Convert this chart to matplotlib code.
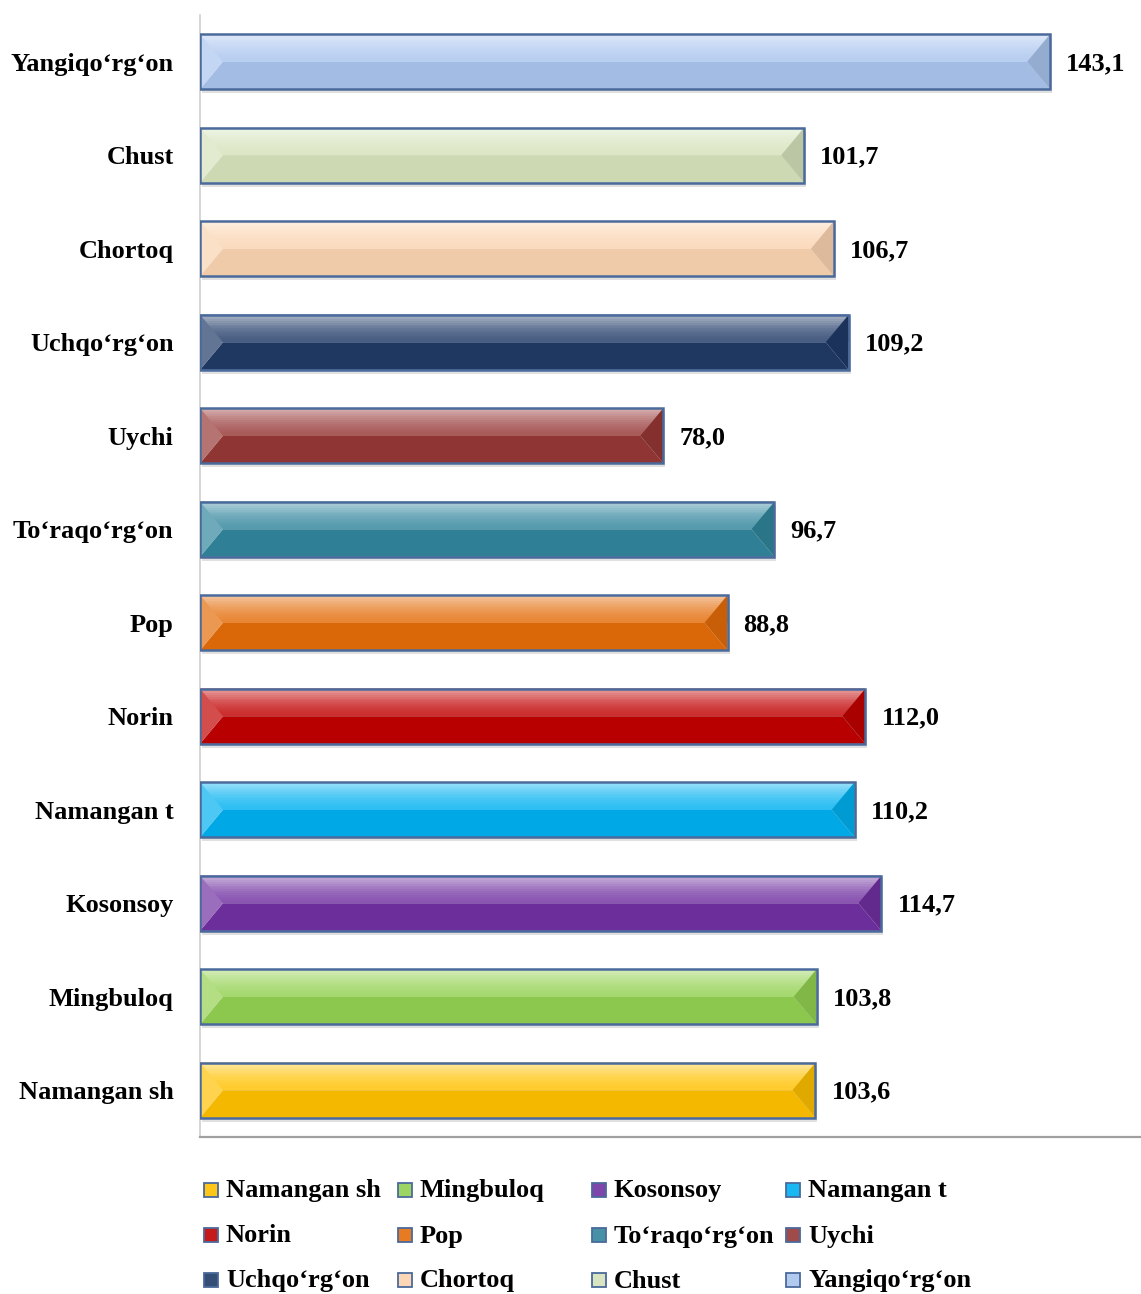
import matplotlib.pyplot as plt
from matplotlib.patches import Polygon, Rectangle
from matplotlib.colors import to_rgb
import numpy as np

plt.rcParams['font.family'] = ['Liberation Serif', 'DejaVu Serif']
plt.rcParams['font.weight'] = 'bold'

# data (bottom to top)
districts = ['Namangan sh', 'Mingbuloq', 'Kosonsoy', 'Namangan t', 'Norin', 'Pop',
             'To‘raqo‘rg‘on', 'Uychi', 'Uchqo‘rg‘on', 'Chortoq', 'Chust', 'Yangiqo‘rg‘on']
values = [103.6, 103.8, 114.7, 110.2, 112.0, 88.8, 96.7, 78.0, 109.2, 106.7, 101.7, 143.1]
labels = ['103,6', '103,8', '114,7', '110,2', '112,0', '88,8',
          '96,7', '78,0', '109,2', '106,7', '101,7', '143,1']
colors = ['#FFC000', '#92D050', '#7030A0', '#00B0F0', '#C00000', '#E36C09',
          '#31859C', '#953735', '#1F3A66', '#FAD3B0', '#D5E2BA', '#A9C4EE']


def mix(c, t, w):
    c = np.array(to_rgb(c))
    return tuple(c + (np.array(to_rgb(t)) - c) * w)


W, H = 1141, 1294
fig = plt.figure(figsize=(W / 100, H / 100), dpi=100)
ax = fig.add_axes([200 / W, 1 - 1137 / H, 941 / W, (1137 - 15) / H])

xmax = 158.4
ax.set_xlim(0, xmax)
ax.set_ylim(-0.5, len(values) - 0.5)

bh = 0.59
px_x = xmax / 941          # data units per pixel, x
px_y = len(values) / 1122  # data units per pixel, y
d = 23 * px_x
fs = 19

for i, (v, c) in enumerate(zip(values, colors)):
    top, bot, mid = i + bh / 2, i - bh / 2, i
    # shadow
    ax.add_patch(Rectangle((2 * px_x, bot - 4 * px_y), v, bh, facecolor='#000000',
                           alpha=0.12, lw=0, zorder=1))
    # lower face
    ax.add_patch(Polygon([(0, bot), (v, bot), (v - d, mid), (d, mid)],
                         closed=True, facecolor=mix(c, 'black', 0.04), lw=0, zorder=2))
    # upper face with gradient
    n = 14
    for k in range(n):
        y0 = mid + (bh / 2) * k / n
        w = 0.18 + 0.42 * (k / (n - 1)) ** 1.5
        ax.add_patch(Rectangle((0, y0), v, bh / 2 / n + 0.002,
                               facecolor=mix(c, 'white', w), lw=0, zorder=2))
    ax.add_patch(Polygon([(0, top), (d, mid), (0, bot)], closed=True,
                         facecolor=mix(c, 'white', 0.3), lw=0, zorder=3))
    ax.add_patch(Polygon([(v, top), (v - d, mid), (v, bot)], closed=True,
                         facecolor=mix(c, 'black', 0.12), lw=0, zorder=3))
    ax.add_patch(Rectangle((0, bot), v, bh, facecolor='none', edgecolor='#4A6A9C',
                           lw=1.8, zorder=4))
    ax.text(v + 2.7, i - 0.02, labels[i], ha='left', va='center', fontsize=fs,
            fontweight='bold', zorder=5)

ax.set_yticks(range(len(values)))
ax.set_yticklabels(districts, fontsize=fs, fontweight='bold')
ax.tick_params(axis='y', length=0, pad=19)
ax.set_xticks([])

for s in ['top', 'right']:
    ax.spines[s].set_visible(False)
ax.spines['left'].set_color('#D0D0D0')
ax.spines['left'].set_linewidth(1.2)
ax.spines['bottom'].set_color('#A0A0A0')
ax.spines['bottom'].set_linewidth(1.6)

# legend, row-wise, 4 columns
ncol = 4
for k, (name, c) in enumerate(zip(districts, colors)):
    r, col = divmod(k, ncol)
    x0 = 204 + col * 194
    yc = 1190 + r * 45
    sz = 14
    fig.patches.append(Rectangle((x0 / W, 1 - (yc + sz / 2) / H), sz / W, sz / H,
                                 transform=fig.transFigure, facecolor=mix(c, 'white', 0.1),
                                 edgecolor='#4A6A9C', lw=1.3))
    fig.text((x0 + 22) / W, 1 - (yc + 1) / H, name, ha='left', va='center',
             fontsize=fs, fontweight='bold')

fig.savefig('out.png', dpi=100, facecolor='white')
